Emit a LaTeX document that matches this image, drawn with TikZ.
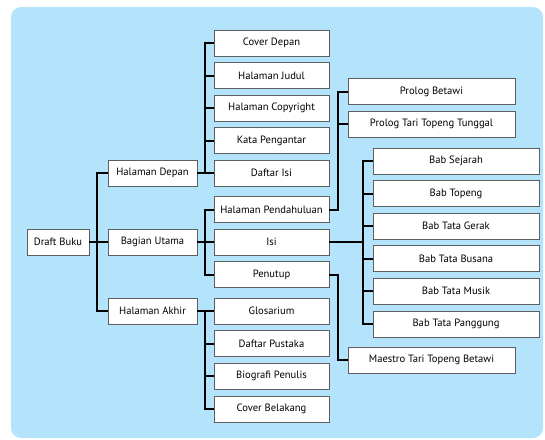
\documentclass[tikz,border=0pt]{standalone}
\usepackage{fontspec}
\setmainfont{PT Sans}
\usepackage{tikz}
\definecolor{skyback}{RGB}{180,227,252}
\definecolor{boxline}{RGB}{95,95,95}
\tikzstyle{outline}=[x=1pt,y=-1pt,font=\fontsize{10.6}{12}\selectfont]
\tikzstyle{box}=[rectangle, draw=boxline, line width=0.9pt, fill=white, minimum height=26pt, inner sep=2pt]
\tikzstyle{root}=[box, minimum width=62pt]
\tikzstyle{part}=[box, minimum width=89pt]
\tikzstyle{sect}=[box, minimum width=115pt]
\tikzstyle{prolog}=[box, minimum width=167pt]
\tikzstyle{bab}=[box, minimum width=166pt]
\tikzstyle{link}=[-, line width=2pt, draw=black]

\begin{document}
\begin{tikzpicture}[outline]
				%The background
				\useasboundingbox (0,0) rectangle (545,439);
				\fill[skyback, rounded corners=10pt] (11,7) rectangle (543,438);
				
				%The root and its parts
				\draw (58,242) node[root] (db) {Draft Buku};
				\draw (152.5,173) node[part] (hd) {Halaman Depan};
				\draw (152.5,242) node[part] (bu) {Bagian Utama};
				\draw (152.5,311) node[part] (ha) {Halaman Akhir};
				
				%The sections
				\draw (271.5,43) node[sect] (cd) {Cover Depan};
				\draw (271.5,75.5) node[sect] (hj) {Halaman Judul};
				\draw (271.5,108) node[sect] (hc) {Halaman Copyright};
				\draw (271.5,140.5) node[sect] (kp) {Kata Pengantar};
				\draw (271.5,173) node[sect] (di) {Daftar Isi};
				\draw (271.5,209.5) node[sect] (hp) {Halaman Pendahuluan};
				\draw (271.5,242) node[sect] (isi) {Isi};
				\draw (271.5,274.5) node[sect] (pn) {Penutup};
				\draw (271.5,311) node[sect] (gl) {Glosarium};
				\draw (271.5,343.5) node[sect] (dp) {Daftar Pustaka};
				\draw (271.5,376) node[sect] (bp) {Biografi Penulis};
				\draw (271.5,409) node[sect] (cb) {Cover Belakang};
				
				%The chapters
				\draw (431.5,91.5) node[prolog] (pb) {Prolog Betawi};
				\draw (431.5,124) node[prolog] (pt) {Prolog Tari Topeng Tunggal};
				\draw (431.5,360) node[prolog] (mt) {Maestro Tari Topeng Betawi};
				\draw (456,161) node[bab] (bs) {Bab Sejarah};
				\draw (456,193.5) node[bab] (bt) {Bab Topeng};
				\draw (456,226) node[bab] (bg) {Bab Tata Gerak};
				\draw (456,258.5) node[bab] (bb) {Bab Tata Busana};
				\draw (456,291) node[bab] (bm) {Bab Tata Musik};
				\draw (456,324) node[bab] (bpg) {Bab Tata Panggung};
				
				%The links
				\draw[link] (db.east) -- ++(8,0) |- (hd.west);
				\draw[link] (db.east) -- (bu.west);
				\draw[link] (db.east) -- ++(8,0) |- (ha.west);
				
				\draw[link] (hd.east) -- ++(8,0) |- (cd.west);
				\draw[link] (hd.east) -- ++(8,0) |- (hj.west);
				\draw[link] (hd.east) -- ++(8,0) |- (hc.west);
				\draw[link] (hd.east) -- ++(8,0) |- (kp.west);
				\draw[link] (hd.east) -- (di.west);
				
				\draw[link] (bu.east) -- ++(8,0) |- (hp.west);
				\draw[link] (bu.east) -- (isi.west);
				\draw[link] (bu.east) -- ++(8,0) |- (pn.west);
				
				\draw[link] (ha.east) -- (gl.west);
				\draw[link] (ha.east) -- ++(8,0) |- (dp.west);
				\draw[link] (ha.east) -- ++(8,0) |- (bp.west);
				\draw[link] (ha.east) -- ++(8,0) |- (cb.west);
				
				\draw[link] (hp.east) -- ++(9,0) |- (pb.west);
				\draw[link] (hp.east) -- ++(9,0) |- (pt.west);
				\draw[link] (pn.east) -- ++(9,0) |- (mt.west);
				
				\draw[link] (isi.east) -- ++(34,0) |- (bs.west);
				\draw[link] (isi.east) -- ++(34,0) |- (bt.west);
				\draw[link] (isi.east) -- ++(34,0) |- (bg.west);
				\draw[link] (isi.east) -- ++(34,0) |- (bb.west);
				\draw[link] (isi.east) -- ++(34,0) |- (bm.west);
				\draw[link] (isi.east) -- ++(34,0) |- (bpg.west);
			\end{tikzpicture}
\end{document}
